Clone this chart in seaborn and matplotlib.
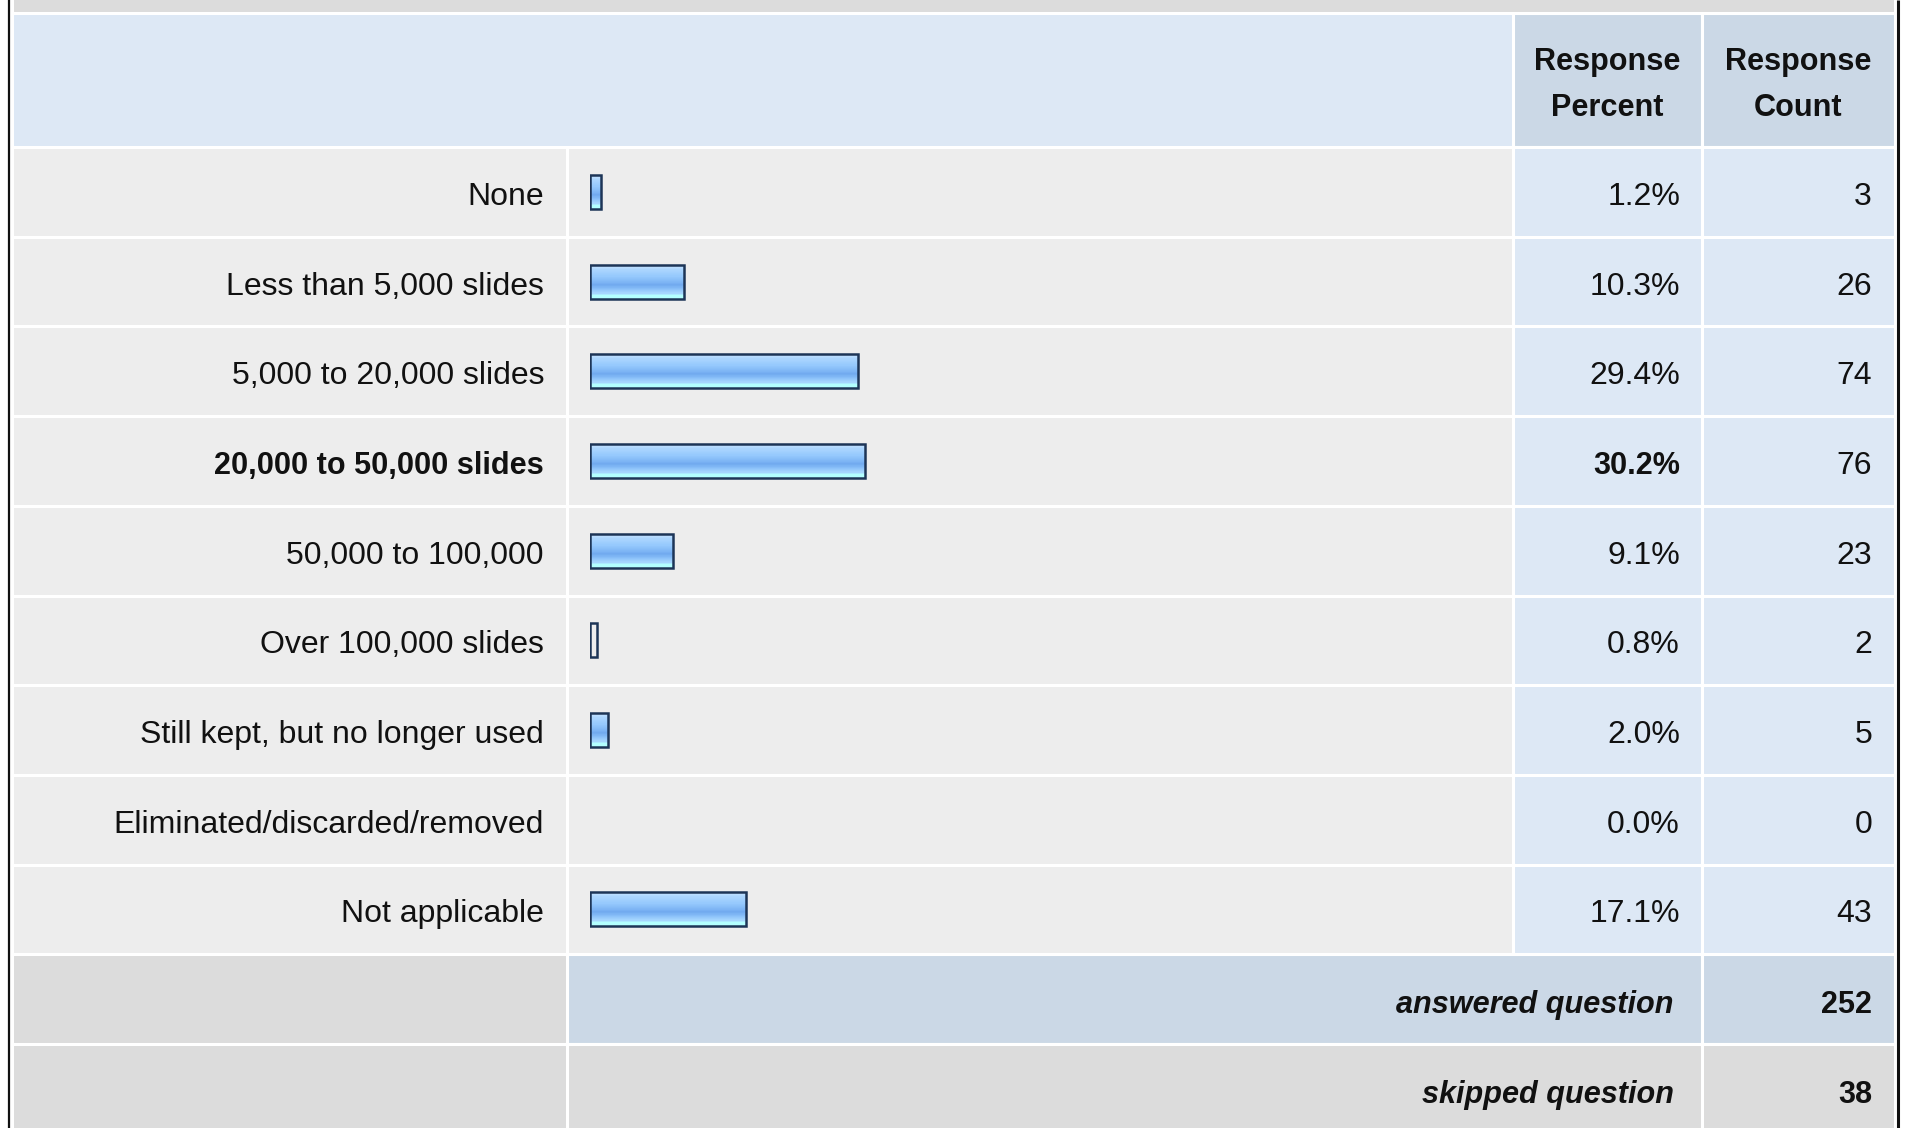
import matplotlib
matplotlib.use('Agg')
import matplotlib.pyplot as plt
from matplotlib.patches import Rectangle
from matplotlib.colors import LinearSegmentedColormap
import numpy as np
import pandas as pd
import seaborn as sns

# survey data
answers = ['None', 'Less than 5,000 slides', '5,000 to 20,000 slides',
           '20,000 to 50,000 slides', '50,000 to 100,000', 'Over 100,000 slides',
           'Still kept, but no longer used', 'Eliminated/discarded/removed',
           'Not applicable']
percents = [1.2, 10.3, 29.4, 30.2, 9.1, 0.8, 2.0, 0.0, 17.1]
counts = [3, 26, 74, 76, 23, 2, 5, 0, 43]
answered = 252
skipped = 38

df = pd.DataFrame({'answer': answers, 'percent': percents, 'count': counts})

sns.set_style('white')
plt.rcParams['font.family'] = ['Liberation Sans', 'DejaVu Sans']
FS = 23      # regular text
FSB = 22.1   # bold text

W, H = 1909, 1128
fig = plt.figure(figsize=(W / 100, H / 100), dpi=100)

# background table drawn in pixel coordinates
bg = fig.add_axes([0, 0, 1, 1])
bg.set_xlim(0, W)
bg.set_ylim(H, 0)
bg.axis('off')

c0, c1, c2, c3, c4 = 11.5, 567, 1513, 1702, 1894.5
top_band = 13
head_bot = 147
row_h = 89.7

LIGHT = '#dde8f5'
DARK = '#cbd8e6'
ROW = '#ededed'
GRAY = '#dcdcdc'


def cell(x0, x1, y0, y1, color):
    bg.add_patch(Rectangle((x0, y0), x1 - x0, y1 - y0, facecolor=color,
                           edgecolor='white', linewidth=2.2))


cell(c0, c4, -5, top_band, GRAY)
cell(c0, c2, top_band, head_bot, LIGHT)
cell(c2, c3, top_band, head_bot, DARK)
cell(c3, c4, top_band, head_bot, DARK)

n = len(answers)
for i in range(n):
    y0 = head_bot + i * row_h
    y1 = y0 + row_h
    cell(c0, c1, y0, y1, ROW)
    cell(c1, c2, y0, y1, ROW)
    cell(c2, c3, y0, y1, LIGHT)
    cell(c3, c4, y0, y1, LIGHT)

ya = head_bot + n * row_h
cell(c0, c1, ya, ya + row_h, GRAY)
cell(c1, c3, ya, ya + row_h, DARK)
cell(c3, c4, ya, ya + row_h, DARK)
ys = ya + row_h
cell(c0, c1, ys, ys + row_h, GRAY)
cell(c1, c3, ys, ys + row_h, GRAY)
cell(c3, c4, ys, ys + row_h, GRAY)

# outer black border
bg.plot([9, 9], [0, H], color='#111111', lw=1.6, solid_capstyle='butt')
bg.plot([1897.5, 1897.5], [0, H], color='#111111', lw=2.2, solid_capstyle='butt')

# header text
for cx, lines in [((c2 + c3) / 2, ['Response', 'Percent']),
                  ((c3 + c4) / 2, ['Response', 'Count'])]:
    bg.text(cx, 62, lines[0], ha='center', va='center', fontsize=FSB,
            fontweight='bold', color='#111111')
    bg.text(cx, 108, lines[1], ha='center', va='center', fontsize=FSB,
            fontweight='bold', color='#111111')

top = int(np.argmax(percents))
for i in range(n):
    cy = head_bot + (i + 0.5) * row_h + 5
    wt = 'bold' if i == top else 'normal'
    fs = FSB if i == top else FS
    bg.text(544, cy, answers[i], ha='right', va='center', fontsize=fs,
            fontweight=wt, color='#111111')
    bg.text(1680, cy, f'{percents[i]:.1f}%', ha='right', va='center',
            fontsize=fs, fontweight=wt, color='#111111')
    bg.text(1872, cy, str(counts[i]), ha='right', va='center', fontsize=FS,
            color='#111111')

bg.text(1674, ya + row_h / 2 + 6, 'answered question', ha='right', va='center',
        fontsize=FSB, fontweight='bold', fontstyle='italic', color='#111111')
bg.text(1872, ya + row_h / 2 + 6, str(answered), ha='right', va='center',
        fontsize=FSB, fontweight='bold', color='#111111')
bg.text(1674, ys + row_h / 2 + 6, 'skipped question', ha='right', va='center',
        fontsize=FSB, fontweight='bold', fontstyle='italic', color='#111111')
bg.text(1872, ys + row_h / 2 + 6, str(skipped), ha='right', va='center',
        fontsize=FSB, fontweight='bold', color='#111111')

# bar column
ax = fig.add_axes([590 / W, 1 - (head_bot + n * row_h) / H, 911 / W, n * row_h / H])
sns.barplot(data=df, x='percent', y='answer', orient='h', width=0.38,
            facecolor='none', edgecolor='#1d3557', linewidth=1.8, ax=ax, zorder=3)
ax.set_xlim(0, 100)
ax.set_ylim(n - 0.5, -0.5)
ax.axis('off')
ax.patch.set_visible(False)

cmap = LinearSegmentedColormap.from_list('bar', [
    (0.0, '#d4eaff'), (0.15, '#acd6ff'), (0.35, '#96c9fd'), (0.5, '#82b9f6'),
    (0.6, '#70a9ef'), (0.72, '#8cc2fa'), (0.85, '#a8d8ff'), (0.9, '#b3ffff'),
    (1.0, '#b3ffff')])
grad = np.linspace(0, 1, 64).reshape(-1, 1)
for p in ax.patches:
    x, y = p.get_x(), p.get_y()
    w, h = p.get_width(), p.get_height()
    if w == 0:
        p.set_visible(False)
        continue
    if w < 1:
        continue
    im = ax.imshow(grad, extent=[x, x + w, y + h, y], aspect='auto', cmap=cmap,
                   zorder=2, interpolation='nearest')
    im.set_clip_path(p)
ax.set_xlim(0, 100)
ax.set_ylim(n - 0.5, -0.5)

fig.savefig('out.png', dpi=100)
